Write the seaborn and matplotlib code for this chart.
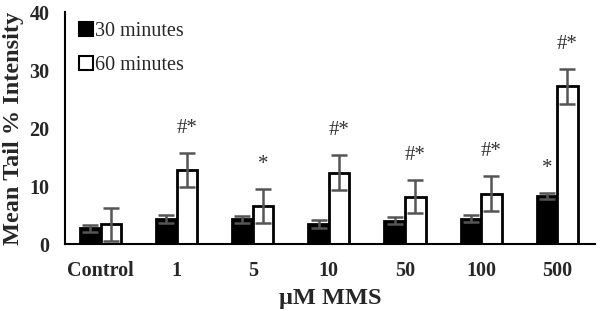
import pandas as pd
import matplotlib.pyplot as plt
import seaborn as sns
import numpy as np

# Data
doses = ['Control', '1', '5', '10', '50', '100', '500']
mean_30 = [2.7, 4.4, 4.3, 3.4, 4.0, 4.4, 8.3]
err_30 = [0.6, 0.7, 0.6, 0.7, 0.6, 0.6, 0.5]
mean_60 = [3.4, 12.8, 6.6, 12.3, 8.2, 8.7, 27.2]
err_60 = [2.8, 2.9, 2.9, 3.0, 2.8, 3.0, 3.0]
marks_30 = ['', '', '', '', '', '', '*']
marks_60 = ['', '#*', '*', '#*', '#*', '#*', '#*']

df = pd.DataFrame({
    'dose': doses * 2,
    'value': mean_30 + mean_60,
    'time': ['30 minutes'] * len(doses) + ['60 minutes'] * len(doses),
})

sns.set_style('white')
plt.rcParams['font.family'] = ['Liberation Serif', 'DejaVu Serif']

fig = plt.figure(figsize=(6, 3.11), dpi=100)
ax = fig.add_axes([0.108, 0.215, 0.884, 0.746])

sns.barplot(data=df, x='dose', y='value', hue='time', order=doses,
            palette={'30 minutes': 'black', '60 minutes': 'white'},
            width=0.54, edgecolor='black', linewidth=2, errorbar=None, ax=ax)

# error bars and significance marks on top of each bar
for cont, errs, marks in zip(ax.containers, [err_30, err_60], [marks_30, marks_60]):
    for bar, e, m in zip(cont, errs, marks):
        xc = bar.get_x() + bar.get_width() / 2
        h = bar.get_height()
        ax.errorbar(xc, h, yerr=e, color='#555555', capsize=6,
                    elinewidth=1.8, capthick=1.8)
        if m:
            ax.text(xc, h + e + 2.6, m, ha='center', va='bottom',
                    fontsize=15, color='#333333')

ax.set_ylim(0, 40)
ax.set_xlim(-0.47, 6.5)
ax.set_yticks([0, 10, 20, 30, 40])
ax.tick_params(axis='y', length=0, pad=11)
ax.tick_params(axis='x', length=0, pad=12)
for lbl in ax.get_yticklabels():
    lbl.set_fontsize(14.5)
    lbl.set_fontweight('bold')
for lbl in ax.get_xticklabels():
    lbl.set_fontsize(14.5)
    lbl.set_fontweight('bold')

ax.set_ylabel('Mean Tail % Intensity', fontsize=17.5, fontweight='bold', labelpad=4)
ax.set_xlabel('μM MMS', fontsize=17.5, fontweight='bold', labelpad=5)

sns.despine(ax=ax)
ax.spines['left'].set_linewidth(1.5)
ax.spines['bottom'].set_linewidth(1.5)
ax.spines['left'].set_color('black')
ax.spines['bottom'].set_color('black')

leg = ax.legend(loc='upper left', frameon=False, fontsize=14.5,
                handlelength=0.7, handleheight=0.7, handletextpad=0.1,
                labelspacing=0.75, borderaxespad=0.3, bbox_to_anchor=(0.0, 1.02))
for h in leg.legend_handles:
    h.set_linewidth(1.5)

plt.savefig('out.png', dpi=100)
